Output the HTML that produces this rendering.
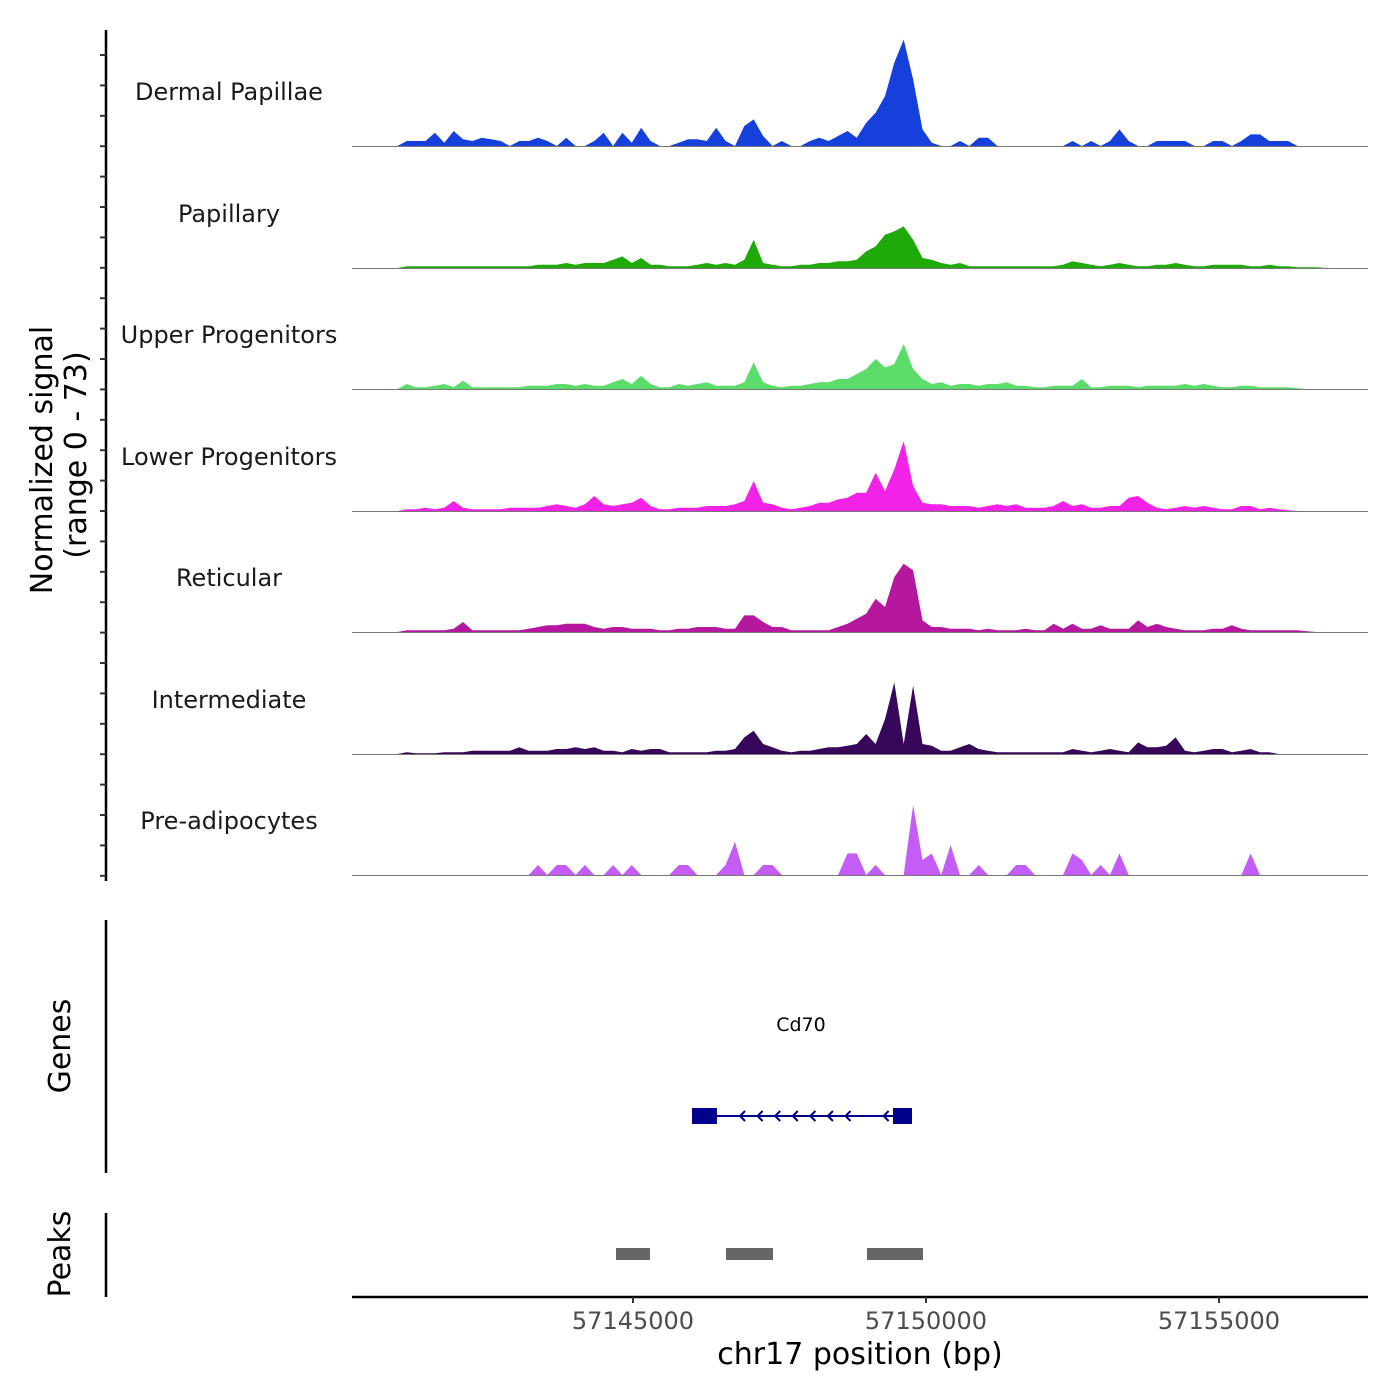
<!DOCTYPE html>
<html><head><meta charset="utf-8"><style>
body{margin:0;background:#fff}
svg{display:block;font-family:"DejaVu Sans","Liberation Sans",sans-serif}
</style></head><body>
<svg id="c" width="1400" height="1400" viewBox="0 0 1400 1400"></svg>
<script>
const trackNames=["Dermal Papillae","Papillary","Upper Progenitors","Lower Progenitors","Reticular","Intermediate","Pre-adipocytes"];
const trackColors=["#1540dc","#1faa0a","#5cdc6a","#f222e6","#b5179f","#37085a","#c45cf7"];
const binStartBp=57140900;
const binSizeBp=160;
const dermal=[0,3,3,3,8,2,9,4,3,5,4,3,0,3,3,5,3,0,5,0,0,3,8,0,8,2,11,3,0,0,2,4,4,3,11,3,0,12,16,6,0,3,0,0,3,5,3,6,9,5,14,20,30,50,64,40,10,2,0,0,3,0,5,5,0,0,0,0,0,0,0,0,3,0,3,0,3,10,3,0,0,3,3,3,3,0,0,3,3,0,3,7,7,3,3,3,0,0,0,0,0,0,0,0];
const papillary=[0,1,1,1,1,1,1,1,1,1,1,1,1,1,1,2,2,2,3,2,3,3,3,5,7,3,6,2,2,1,1,1,2,3,2,3,2,5,17,3,2,1,1,2,2,3,3,4,4,5,10,13,20,22,25,17,6,5,3,2,3,1,1,1,1,1,1,1,1,1,1,2,4,3,2,1,2,3,2,1,1,2,2,3,2,1,1,2,2,2,2,1,1,2,1,1,0.5,0.5,0.5,0,0,0,0,0];
const upper=[0,3,1,1,2,3,1,5,1,1,1,1,1,1,2,2,2,3,3,2,3,2,2,4,6,3,8,3,1,1,3,2,3,4,2,2,2,4,16,4,2,1,2,2,3,4,4,6,6,9,12,18,13,15,27,12,6,3,4,2,3,3,2,3,3,4,2,2,1,1,2,2,2,6,1,1,2,2,2,1,2,2,2,2,3,2,3,2,1,1,2,2,1,1,1,1,0.5,0,0,0,0,0,0,0];
const lower=[0,1,1,2,1,2,6,2,1,1,1,1,2,2,2,2,3,4,3,2,4,9,4,3,4,5,8,3,1,1,2,2,2,3,3,3,4,6,18,5,4,2,1,2,3,5,5,7,8,11,11,23,12,25,42,15,5,4,4,3,3,3,2,3,4,3,4,2,2,2,3,6,3,4,2,2,3,3,8,9,5,2,1,2,3,2,3,2,1,1,3,3,1,2,1,0.5,0,0,0,0,0,0,0,0];
const reticular=[0,1,1,1,1,1,2,6,1,1,1,1,1,1,2,3,4,4,5,5,5,3,2,3,3,2,2,2,1,1,2,2,3,3,3,2,2,10,10,6,3,3,1,1,1,1,1,3,5,8,11,20,15,33,41,37,7,3,3,2,2,2,1,2,1,1,1,2,1,1,5,2,5,2,2,4,2,2,2,7,3,5,3,2,1,1,1,2,2,4,2,1,1,1,1,1,1,0.5,0,0,0,0,0,0];
const intermediate=[0,1,0.5,0.5,0.5,1,1,1,2,2,2,2,2,4,2,2,2,3,3,4,3,4,2,2,1,3,2,3,3,1,1,1,1,1,2,2,3,10,14,6,4,2,1,2,2,3,4,4,5,6,12,6,21,43,6,41,6,5,2,2,4,6,3,2,1,1,1,1,1,1,1,1,3,2,1,2,3,2,1,7,4,4,5,10,2,1,2,3,3,1,2,3,1,1,0,0,0,0,0,0,0,0,0,0];
const preadipo=[0,0,0,0,0,0,0,0,0,0,0,0,0,0,0,6,0,6,6,0,6,0,0,6,0,6,0,0,0,0,6,6,0,0,0,6,20,0,0,6,6,0,0,0,0,0,0,0,13,13,0,6,0,0,0,42,9,13,0,18,0,0,6,0,0,0,6,6,0,0,0,0,13,9,0,6,0,13,0,0,0,0,0,0,0,0,0,0,0,0,0,13,0,0,0,0,0,0,0,0,0,0,0,0];
const series=[dermal,papillary,upper,lower,reticular,intermediate,preadipo];
const xTicks=[57145000,57150000,57155000];
const peaks=[[57144710,57145290],[57146587,57147389],[57148993,57149949]];
const geneSpan=[57146007,57149761];
const geneExons=[[57146007,57146433],[57149437,57149761]];
const geneIntronMarks=[57146400,57146700,57147000,57147300,57147600,57147900,57148200,57148850];

const NS="http://www.w3.org/2000/svg";
const svg=document.getElementById('c');
function mk(tag,attrs,parent){const e=document.createElementNS(NS,tag);for(const k in attrs)e.setAttribute(k,attrs[k]);(parent||svg).appendChild(e);return e;}
const X0=352,X1=1368,BP0=57140205,PXBP=0.0586;
function xs(bp){return X0+(bp-BP0)*PXBP;}
const baselines=[146,268,389,511,632,754,875];
const PXU=1.664;
function ys(v,t){return baselines[t]-v*PXU;}

let ax=mk('line',{x1:106,y1:30,x2:106,y2:881,stroke:'#000','stroke-width':2.5});

for(let y=55;y<=880;y+=30.4){let t=mk('line',{x1:100,y1:y,x2:106,y2:y,stroke:'#333','stroke-width':2});
}
let yt=mk('text',{transform:'translate(52,460) rotate(-90)','text-anchor':'middle','font-size':30,fill:'#000'});
yt.textContent='Normalized signal';

let yt2=mk('text',{transform:'translate(86,455) rotate(-90)','text-anchor':'middle','font-size':30,fill:'#000'});
yt2.textContent='(range 0 - 73)';


series.forEach((vals,t)=>{
  const g=mk('g',{});
  
  
  let pts=[[xs(binStartBp),baselines[t]]];
  vals.forEach((v,i)=>{pts.push([xs(binStartBp+(i+0.5)*binSizeBp),ys(v,t)]);});
  pts.push([xs(binStartBp+vals.length*binSizeBp),baselines[t]]);
  let p=mk('polygon',{points:pts.map(p=>p[0].toFixed(1)+','+p[1].toFixed(1)).join(' '),fill:trackColors[t]},g);
  
  let bl=mk('line',{x1:X0,y1:baselines[t]+0.5,x2:X1,y2:baselines[t]+0.5,stroke:'#777','stroke-width':1},g);
  
  let lb=mk('text',{x:229,y:baselines[t]-46,'text-anchor':'middle','font-size':24,fill:'#1a1a1a'},g);
  lb.textContent=trackNames[t];
  
});

let gl=mk('line',{x1:106,y1:920,x2:106,y2:1173,stroke:'#000','stroke-width':2.5});

let gt=mk('text',{transform:'translate(70,1046) rotate(-90)','text-anchor':'middle','font-size':30});
gt.textContent='Genes';
let gn=mk('text',{x:801,y:1031,'text-anchor':'middle','font-size':19});
gn.textContent='Cd70';
let gline=mk('line',{x1:xs(geneSpan[0]),y1:1116,x2:xs(geneSpan[1]),y2:1116,stroke:'#00008b','stroke-width':2});

geneExons.forEach(e=>{let r=mk('rect',{x:xs(e[0]),y:1108,width:xs(e[1])-xs(e[0]),height:16,fill:'#00008b'});
});
geneIntronMarks.forEach(b=>{const x=xs(b)+25;let c=mk('polyline',{points:`${x+5},1111 ${x},1116 ${x+5},1121`,fill:'none',stroke:'#00008b','stroke-width':2});
});

let pl=mk('line',{x1:106,y1:1213,x2:106,y2:1297,stroke:'#000','stroke-width':2.5});

let pt=mk('text',{transform:'translate(70,1254) rotate(-90)','text-anchor':'middle','font-size':30});
pt.textContent='Peaks';
peaks.forEach(pk=>{let r=mk('rect',{x:xs(pk[0]),y:1248,width:xs(pk[1])-xs(pk[0]),height:12,fill:'#666'});
});

let xl=mk('line',{x1:X0,y1:1297,x2:X1,y2:1297,stroke:'#000','stroke-width':2.5});

xTicks.forEach(v=>{let t=mk('line',{x1:xs(v),y1:1297,x2:xs(v),y2:1303,stroke:'#333','stroke-width':2});

let l=mk('text',{x:xs(v),y:1329,'text-anchor':'middle','font-size':24,fill:'#4d4d4d'});l.textContent=String(v);
});
let xt=mk('text',{x:860,y:1364,'text-anchor':'middle','font-size':30});
xt.textContent='chr17 position (bp)';
</script>
</body></html>
